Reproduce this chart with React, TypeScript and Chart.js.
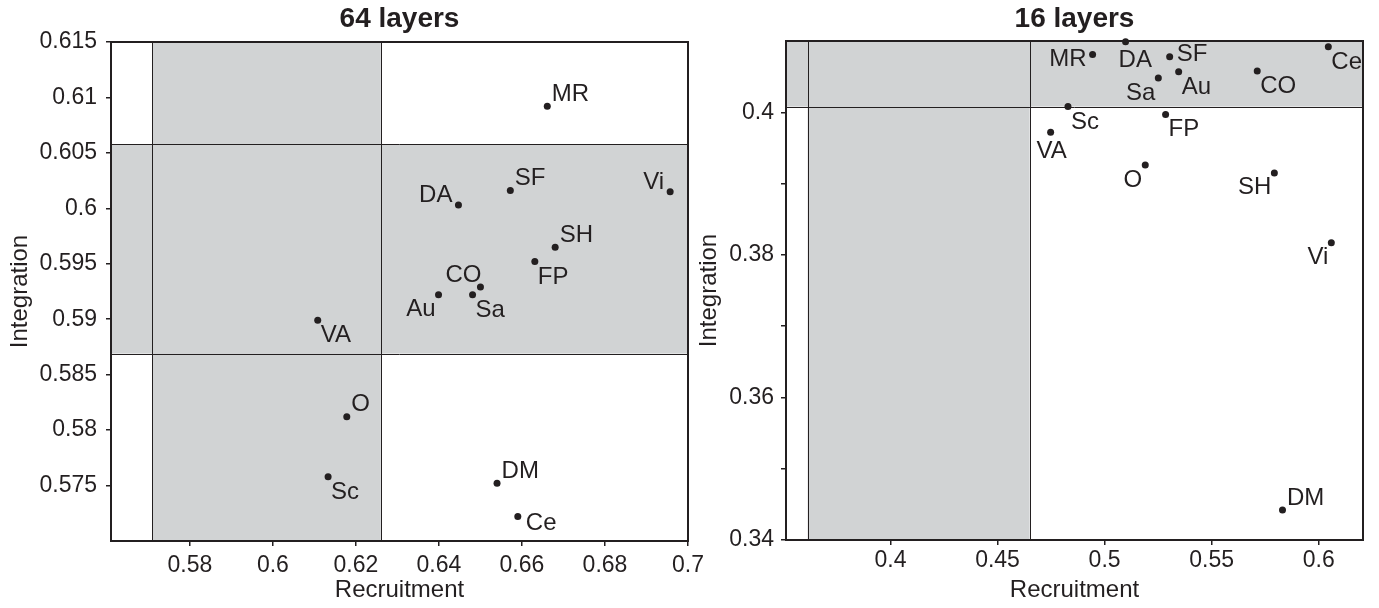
import React, { useEffect, useRef } from 'react';
import { Chart, registerables } from 'chart.js';

Chart.register(...registerables);

const INK = '#231f20';
const SHADE = '#d1d3d4';
const FONT = "'Liberation Sans', Arial, Helvetica, sans-serif";

// ---------- 64 layers ----------
const species64 = ['MR', 'SF', 'Vi', 'DA', 'SH', 'FP', 'CO', 'Sa', 'Au', 'VA', 'O', 'Sc', 'DM', 'Ce'];
const recruitment64 = [0.6661, 0.6572, 0.6957, 0.6447, 0.668, 0.6631, 0.65, 0.6481, 0.6399, 0.6108, 0.6178, 0.6133, 0.654, 0.659];
const integration64 = [0.6092, 0.6016, 0.6015, 0.6003, 0.5965, 0.5952, 0.5929, 0.5922, 0.5922, 0.5899, 0.5812, 0.5758, 0.5752, 0.5722];
const placement64 = ['NE', 'NE', 'NW', 'NW', 'NE', 'SE', 'NNW', 'SE', 'SW', 'SE', 'NE', 'SE', 'NE', 'ESE'];
const xRange64 = [0.561, 0.7];
const yRange64 = [0.57, 0.615];
const xTicks64 = [0.58, 0.6, 0.62, 0.64, 0.66, 0.68, 0.7];
const xTickLabels64 = ['0.58', '0.6', '0.62', '0.64', '0.66', '0.68', '0.7'];
const yTicks64 = [0.575, 0.58, 0.585, 0.59, 0.595, 0.6, 0.605, 0.61, 0.615];
const yTickLabels64 = ['0.575', '0.58', '0.585', '0.59', '0.595', '0.6', '0.605', '0.61', '0.615'];
const bandX64 = [0.5709, 0.626];
const bandY64 = [0.5869, 0.6058];

// ---------- 16 layers ----------
const species16 = ['MR', 'DA', 'SF', 'Sa', 'Au', 'CO', 'Ce', 'Sc', 'FP', 'VA', 'O', 'SH', 'Vi', 'DM'];
const recruitment16 = [0.4944, 0.5098, 0.5304, 0.5251, 0.5346, 0.5713, 0.6045, 0.4829, 0.5285, 0.4748, 0.519, 0.5793, 0.6059, 0.5831];
const integration16 = [0.4081, 0.4099, 0.4078, 0.4048, 0.4057, 0.4058, 0.4092, 0.4008, 0.3997, 0.3972, 0.3926, 0.3915, 0.3817, 0.3442];
const placement16 = ['W', 'SSE', 'E', 'SW', 'SE', 'SE', 'SE', 'SE', 'SE', 'S', 'SW', 'SW', 'SW', 'NE'];
const xRange16 = [0.3512, 0.6207];
const yRange16 = [0.34, 0.41];
const xTicks16 = [0.4, 0.45, 0.5, 0.55, 0.6];
const xTickLabels16 = ['0.4', '0.45', '0.5', '0.55', '0.6'];
const yTicks16 = [0.34, 0.35, 0.36, 0.37, 0.38, 0.39, 0.4];
const yTickLabels16 = ['0.34', '', '0.36', '', '0.38', '', '0.4'];
const bandX16 = [0.3613, 0.465];
const bandY16 = [0.4008, 0.41];

// label placement relative to the dot (alphabetic baseline)
const PLACE: Record<string, { align: CanvasTextAlign; dx: number; dy: number }> = {
  NE: { align: 'left', dx: 4.5, dy: -5.5 },
  NW: { align: 'right', dx: -6, dy: -3 },
  NNW: { align: 'right', dx: 1, dy: -5 },
  SE: { align: 'left', dx: 3, dy: 22 },
  SW: { align: 'right', dx: -3, dy: 21.5 },
  E: { align: 'left', dx: 7, dy: 4 },
  ESE: { align: 'left', dx: 8, dy: 13 },
  W: { align: 'right', dx: -6, dy: 11 },
  S: { align: 'center', dx: 1, dy: 26 },
  SSE: { align: 'left', dx: -7, dy: 25 },
};

type Panel = {
  title: string;
  names: string[];
  xs: number[];
  ys: number[];
  places: string[];
  xRange: number[];
  yRange: number[];
  xTicks: number[];
  xLabels: string[];
  yTicks: number[];
  yLabels: string[];
  bandX: number[];
  bandY: number[];
  layout: {
    padding: { left: number; top: number; right: number; bottom: number };
    yAxisWidth: number;
    xAxisHeight: number;
    yTitlePad: number;
    yTickPad: number;
    xTickPad: number;
    xTitlePad: number;
  };
};

const panel64: Panel = {
  title: '64 layers',
  names: species64,
  xs: recruitment64,
  ys: integration64,
  places: placement64,
  xRange: xRange64,
  yRange: yRange64,
  xTicks: xTicks64,
  xLabels: xTickLabels64,
  yTicks: yTicks64,
  yLabels: yTickLabels64,
  bandX: bandX64,
  bandY: bandY64,
  layout: {
    padding: { left: 0, top: 42, right: 691, bottom: 0 },
    yAxisWidth: 111,
    xAxisHeight: 67,
    yTitlePad: 6,
    yTickPad: 9,
    xTickPad: 6,
    xTitlePad: 3,
  },
};

const panel16: Panel = {
  title: '16 layers',
  names: species16,
  xs: recruitment16,
  ys: integration16,
  places: placement16,
  xRange: xRange16,
  yRange: yRange16,
  xTicks: xTicks16,
  xLabels: xTickLabels16,
  yTicks: yTicks16,
  yLabels: yTickLabels16,
  bandX: bandX16,
  bandY: bandY16,
  layout: {
    padding: { left: 690, top: 41, right: 16, bottom: 0 },
    yAxisWidth: 96,
    xAxisHeight: 68,
    yTitlePad: 5,
    yTickPad: 7,
    xTickPad: 2,
    xTitlePad: 3,
  },
};

function buildConfig(p: Panel): any {
  const L = p.layout;
  const decor = {
    id: 'decor_' + p.title.replace(/\s/g, ''),
    beforeDatasetsDraw(chart: any) {
      const { ctx, chartArea } = chart;
      const { left, right, top, bottom } = chartArea;
      const sx = chart.scales.x;
      const sy = chart.scales.y;
      ctx.save();
      ctx.beginPath();
      ctx.rect(left, top, right - left, bottom - top);
      ctx.clip();
      ctx.fillStyle = SHADE;
      const x0 = sx.getPixelForValue(p.bandX[0]);
      const x1 = sx.getPixelForValue(p.bandX[1]);
      ctx.fillRect(x0, top, x1 - x0, bottom - top);
      const y0 = sy.getPixelForValue(p.bandY[1]);
      const y1 = sy.getPixelForValue(p.bandY[0]);
      ctx.fillRect(left, y0, right - left, y1 - y0);
      ctx.strokeStyle = INK;
      ctx.lineWidth = 1;
      p.bandX.forEach((v) => {
        if (v > p.xRange[0] && v < p.xRange[1]) {
          const px = Math.round(sx.getPixelForValue(v)) + 0.5;
          ctx.beginPath();
          ctx.moveTo(px, top);
          ctx.lineTo(px, bottom);
          ctx.stroke();
        }
      });
      p.bandY.forEach((v) => {
        if (v > p.yRange[0] && v < p.yRange[1]) {
          const py = Math.round(sy.getPixelForValue(v)) + 0.5;
          ctx.beginPath();
          ctx.moveTo(left, py);
          ctx.lineTo(right, py);
          ctx.stroke();
        }
      });
      ctx.restore();
    },
    afterDatasetsDraw(chart: any) {
      const { ctx, chartArea } = chart;
      const { left, right, top, bottom } = chartArea;
      ctx.save();
      // frame
      ctx.strokeStyle = INK;
      ctx.lineWidth = 2;
      ctx.strokeRect(left, top, right - left, bottom - top);
      // point labels
      const meta = chart.getDatasetMeta(0);
      ctx.fillStyle = INK;
      ctx.font = `24px ${FONT}`;
      ctx.textBaseline = 'alphabetic';
      meta.data.forEach((pt: any, i: number) => {
        const pl = PLACE[p.places[i]];
        ctx.textAlign = pl.align;
        ctx.fillText(p.names[i], pt.x + pl.dx, pt.y + pl.dy);
      });
      // title
      ctx.font = `bold 28px ${FONT}`;
      ctx.textAlign = 'center';
      ctx.fillText(p.title, (left + right) / 2, 27);
      ctx.restore();
    },
  };

  const tickFont = { family: FONT, size: 23 };
  const titleFont = { family: FONT, size: 24 };

  return {
    type: 'scatter',
    data: {
      datasets: [
        {
          data: p.xs.map((x, i) => ({ x, y: p.ys[i] })),
          pointRadius: 3.5,
          pointHoverRadius: 3.5,
          pointBackgroundColor: INK,
          pointBorderWidth: 0,
          borderWidth: 0,
          clip: false,
        },
      ],
    },
    options: {
      responsive: false,
      animation: false,
      devicePixelRatio: 1,
      events: [],
      layout: { padding: L.padding },
      plugins: {
        legend: { display: false },
        tooltip: { enabled: false },
        title: { display: false },
      },
      scales: {
        x: {
          type: 'linear',
          position: 'bottom',
          min: p.xRange[0],
          max: p.xRange[1],
          afterBuildTicks: (s: any) => {
            s.ticks = p.xTicks.map((v) => ({ value: v }));
          },
          afterFit: (s: any) => {
            s.height = L.xAxisHeight;
            s.paddingLeft = 0;
            s.paddingRight = 0;
          },
          ticks: {
            autoSkip: false,
            maxRotation: 0,
            minRotation: 0,
            padding: L.xTickPad,
            color: INK,
            font: tickFont,
            callback: (_v: any, i: number) => p.xLabels[i],
          },
          grid: {
            drawOnChartArea: false,
            drawTicks: true,
            tickLength: 5,
            color: INK,
            lineWidth: 1.5,
          },
          border: { display: false },
          title: {
            display: true,
            text: 'Recruitment',
            color: INK,
            font: titleFont,
            padding: { top: 0, bottom: L.xTitlePad },
          },
        },
        y: {
          type: 'linear',
          position: 'left',
          min: p.yRange[0],
          max: p.yRange[1],
          afterBuildTicks: (s: any) => {
            s.ticks = p.yTicks.map((v) => ({ value: v }));
          },
          afterFit: (s: any) => {
            s.width = L.yAxisWidth;
            s.paddingTop = 0;
            s.paddingBottom = 0;
          },
          ticks: {
            autoSkip: false,
            padding: L.yTickPad,
            color: INK,
            font: tickFont,
            callback: (_v: any, i: number) => p.yLabels[i],
          },
          grid: {
            drawOnChartArea: false,
            drawTicks: true,
            tickLength: 5,
            color: INK,
            lineWidth: 1.5,
          },
          border: { display: false },
          title: {
            display: true,
            text: 'Integration',
            color: INK,
            font: titleFont,
            padding: { top: L.yTitlePad, bottom: 0 },
          },
        },
      },
    },
    plugins: [decor],
  };
}

export default function App() {
  const ref64 = useRef<HTMLCanvasElement>(null);
  const ref16 = useRef<HTMLCanvasElement>(null);

  useEffect(() => {
    const c1 = new Chart(ref64.current as HTMLCanvasElement, buildConfig(panel64));
    const c2 = new Chart(ref16.current as HTMLCanvasElement, buildConfig(panel16));
    return () => {
      c1.destroy();
      c2.destroy();
    };
  }, []);

  const canvasStyle: React.CSSProperties = {
    position: 'absolute',
    left: 0,
    top: 0,
    width: 1379,
    height: 608,
  };

  return (
    <div
      style={{
        position: 'absolute',
        left: 0,
        top: 0,
        width: 1379,
        height: 608,
        background: '#ffffff',
        overflow: 'hidden',
      }}
    >
      <canvas ref={ref64} width={1379} height={608} style={canvasStyle} />
      <canvas ref={ref16} width={1379} height={608} style={canvasStyle} />
    </div>
  );
}
